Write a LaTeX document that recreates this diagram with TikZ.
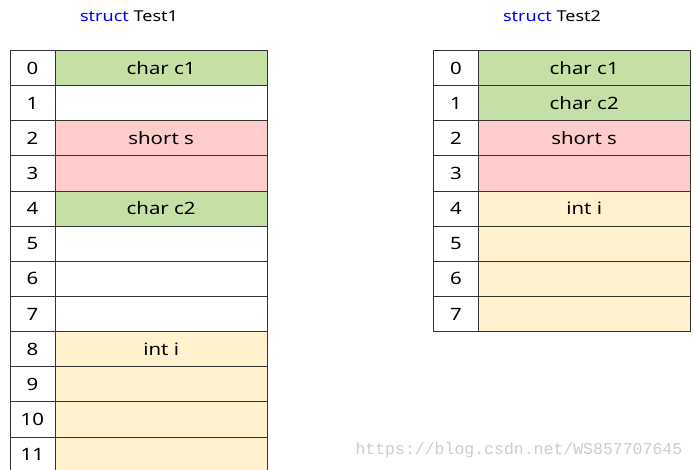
\documentclass[tikz,border=0pt]{standalone}
\usepackage{fontspec}
\setmainfont{Noto Sans}[FakeStretch=1.2]
\newfontfamily\wmfont{Liberation Mono}
\definecolor{cgreen}{RGB}{197,224,164}
\definecolor{cpink}{RGB}{255,204,204}
\definecolor{cyellow}{RGB}{255,242,204}
\definecolor{kwblue}{RGB}{0,0,255}
\definecolor{wmgray}{RGB}{205,205,205}
\begin{document}
\begin{tikzpicture}[x=1pt,y=-1pt,
  cell/.style={draw=black!80,line width=0.8pt,minimum height=35.15pt,inner sep=0pt,font=\fontsize{17}{20}\selectfont,anchor=north west},
  idx/.style={cell,minimum width=45pt},
  val1/.style={cell,minimum width=212.5pt},
  val2/.style={cell,minimum width=211.5pt},
  title/.style={font=\fontsize{15}{18}\selectfont}]
\useasboundingbox (0,0) rectangle (694,470);
% titles
\node[title] (tt1) at (129,16) {\textcolor{kwblue}{struct} Test1};
\node[title] (tt2) at (552,16) {\textcolor{kwblue}{struct} Test2};
% table 1
\foreach \r/\lab/\col in {0/char c1/cgreen,1//white,2/short s/cpink,3//cpink,4/char c2/cgreen,5//white,6//white,7//white,8/int i/cyellow,9//cyellow,10//cyellow,11//cyellow}{
  \node[idx] (a\r) at (9.5,{50+35.15*\r}) {\r};
  \node[val1,fill=\col] (av\r) at (54.5,{50+35.15*\r}) {\lab};
}
% table 2
\foreach \r/\lab/\col in {0/char c1/cgreen,1/char c2/cgreen,2/short s/cpink,3//cpink,4/int i/cyellow,5//cyellow,6//cyellow,7//cyellow}{
  \node[idx] (b\r) at (433,{50+35.15*\r}) {\r};
  \node[val2,fill=\col] (bv\r) at (478,{50+35.15*\r}) {\lab};
}
% watermark
\node[text=wmgray,font=\wmfont\fontsize{16.5}{18}\selectfont,anchor=west] (wm) at (352,450) {https://blog.csdn.net/WS857707645};
\end{tikzpicture}
\end{document}
